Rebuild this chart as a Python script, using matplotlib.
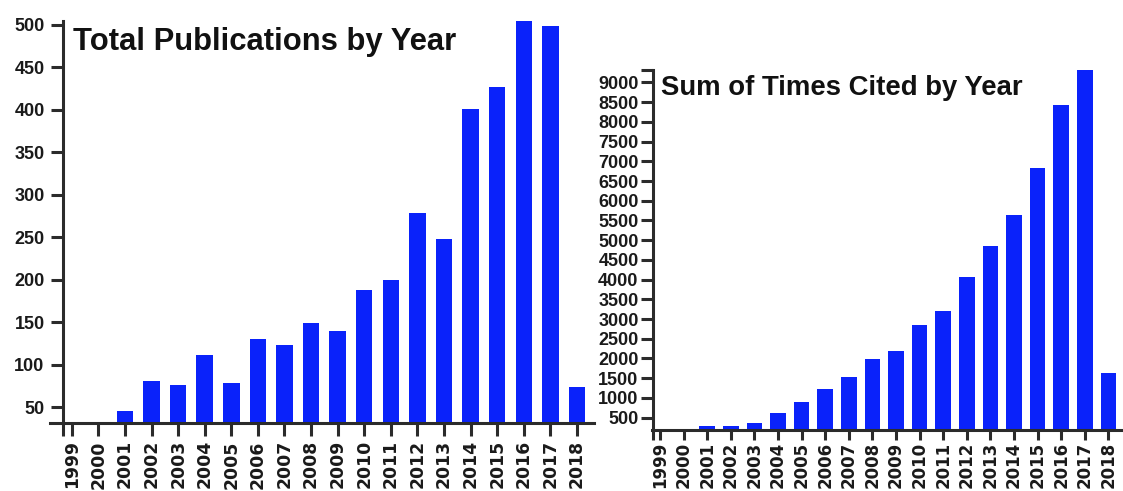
import matplotlib
matplotlib.use("Agg")
import matplotlib.pyplot as plt

# 데이터
years = [1999, 2000, 2001, 2002, 2003, 2004, 2005, 2006, 2007, 2008,
         2009, 2010, 2011, 2012, 2013, 2014, 2015, 2016, 2017, 2018]
publications = [0, 33, 46, 81, 76, 112, 79, 130, 123, 149,
                140, 188, 200, 279, 248, 401, 427, 505, 499, 74]
times_cited = [0, 0, 290, 290, 375, 608, 900, 1225, 1542, 1975,
               2183, 2840, 3210, 4060, 4840, 5640, 6820, 8425, 9320, 1642]

pub_ticks = list(range(50, 501, 50))
cite_ticks = list(range(500, 9001, 500))

bar_color = "#0a22fa"
axis_color = "#2b2b2b"
ytick_font = {"family": "Liberation Sans", "weight": "bold", "size": 13}

fig = plt.figure(figsize=(11.23, 4.91), dpi=100)


def style_axis(ax, xlim, spine_x, ylim, yticks, ypad, xsize, xlen, xpad):
    ax.set_xlim(*xlim)
    ax.set_ylim(*ylim)
    for s in ["top", "right"]:
        ax.spines[s].set_visible(False)
    for s in ["left", "bottom"]:
        ax.spines[s].set_linewidth(2.2)
        ax.spines[s].set_color(axis_color)
    ax.spines["left"].set_position(("data", spine_x))
    ax.set_xticks(years)
    ax.set_xticklabels([str(y) for y in years], rotation=90,
                       family="DejaVu Sans", weight="bold", fontsize=xsize)
    # y축 선이 x축 아래로 튀어나온 모양
    ax.set_xticks([spine_x], minor=True)
    ax.set_yticks(yticks)
    ax.set_yticklabels([str(t) for t in yticks], fontdict=ytick_font)
    ax.tick_params(axis="both", which="both", direction="out", length=9,
                   width=2.2, color=axis_color, labelcolor="#1a1a1a")
    ax.tick_params(axis="y", pad=ypad)
    ax.tick_params(axis="x", which="both", length=xlen, pad=xpad)


# 왼쪽: 연도별 논문 수
ax1 = fig.add_axes([0.0445, 0.1375, 0.4844, 0.8203])
ax1.bar(years, publications, width=0.62, color=bar_color)
style_axis(ax1, (1998.18, 2018.64), 1998.68, (31, 505), pub_ticks, 4.5,
           12.4, 9, 3)
fig.text(0.065, 0.899, "Total Publications by Year", family="Liberation Sans",
         weight="bold", fontsize=22.3, va="baseline", color="#111111")

# 오른쪽: 연도별 피인용 합계
ax2 = fig.add_axes([0.5806, 0.1242, 0.4194, 0.7336])
ax2.bar(years, times_cited, width=0.66, color=bar_color)
style_axis(ax2, (1998.66, 2018.62), 1998.71, (185, 9320), cite_ticks, 1.5,
           12, 7, 1.5)
ax2.set_yticks([9320], minor=True)  # 축 끝 표시
fig.text(0.589, 0.8065, "Sum of Times Cited by Year", family="Liberation Sans",
         weight="bold", fontsize=19.8, va="baseline", color="#111111")

fig.savefig("out.png", dpi=100)
